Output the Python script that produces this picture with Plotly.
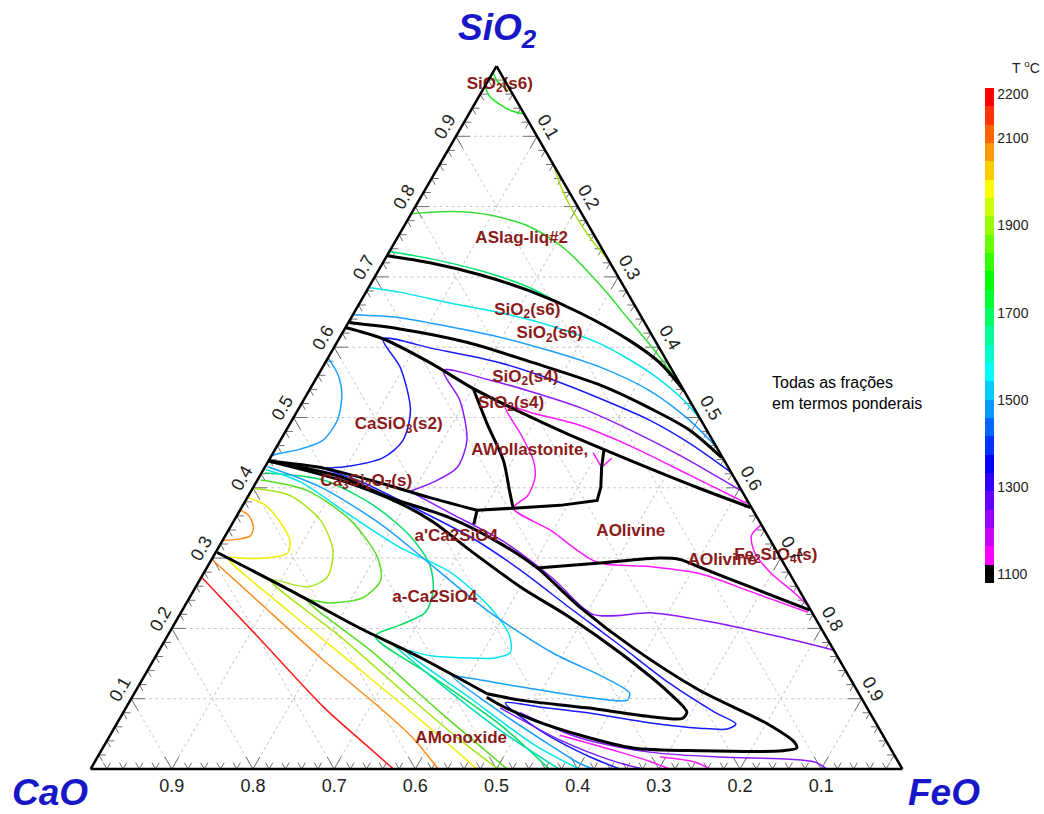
import plotly.graph_objects as go

# ---------------- data: compositions (mass fractions) ----------------
# Phase boundaries (black)  -- SiO2 and FeO fractions, CaO = 1 - SiO2 - FeO
K1_SIO2 = [0.730, 0.720, 0.703, 0.680, 0.649, 0.609, 0.578, 0.538]
K1_FEO = [0.001, 0.058, 0.128, 0.201, 0.278, 0.360, 0.412, 0.462]
K2_SIO2 = [0.635, 0.626, 0.607, 0.578, 0.546, 0.513, 0.482, 0.443]
K2_FEO = [0.000, 0.068, 0.160, 0.256, 0.355, 0.433, 0.497, 0.556]
K3_SIO2 = [0.628, 0.612, 0.578, 0.541, 0.510, 0.477, 0.439, 0.399, 0.372]
K3_FEO = [0.000, 0.054, 0.129, 0.201, 0.270, 0.348, 0.445, 0.551, 0.627]
K4_SIO2 = [0.541, 0.491, 0.439, 0.396, 0.371]
K4_FEO = [0.201, 0.243, 0.289, 0.318, 0.335]
K5_SIO2 = [0.368, 0.371, 0.375, 0.382, 0.401, 0.429, 0.455]
K5_FEO = [0.292, 0.335, 0.391, 0.433, 0.428, 0.415, 0.405]
K6_SIO2 = [0.438, 0.428, 0.403, 0.386, 0.368]
K6_FEO = [0.000, 0.073, 0.167, 0.225, 0.292]
K7_SIO2 = [0.368, 0.348]
K7_FEO = [0.292, 0.298]
K8_SIO2 = [0.438, 0.416, 0.386, 0.357, 0.321, 0.286, 0.230, 0.173, 0.112, 0.065,
           0.038, 0.030, 0.026, 0.026, 0.030, 0.047, 0.070, 0.091, 0.102]
K8_FEO = [0.000, 0.099, 0.176, 0.265, 0.344, 0.407, 0.488, 0.581, 0.694, 0.800,
          0.848, 0.855, 0.840, 0.738, 0.653, 0.583, 0.510, 0.459, 0.437]
K9_SIO2 = [0.438, 0.411, 0.378, 0.351, 0.311, 0.259, 0.216, 0.165, 0.108, 0.081,
           0.072, 0.074, 0.087, 0.098, 0.107]
K9_FEO = [0.000, 0.102, 0.192, 0.247, 0.312, 0.400, 0.482, 0.570, 0.659, 0.694,
          0.693, 0.656, 0.568, 0.480, 0.435]
K10_SIO2 = [0.308, 0.254, 0.202, 0.159, 0.107]
K10_FEO = [0.002, 0.119, 0.228, 0.326, 0.435]
K11_SIO2 = [0.286, 0.293, 0.300, 0.298, 0.287, 0.259, 0.226]
K11_FEO = [0.407, 0.481, 0.551, 0.577, 0.607, 0.683, 0.773]

# Isotherms (coloured)
T1_SIO2 = [0.990, 0.979, 0.965]
T1_FEO = [0.001, 0.011, 0.032]
T2_SIO2 = [0.969, 0.957, 0.945, 0.936, 0.932]
T2_FEO = [0.002, 0.013, 0.032, 0.051, 0.067]
T3_SIO2 = [0.855, 0.825, 0.791, 0.756, 0.723]
T3_FEO = [0.144, 0.168, 0.200, 0.237, 0.277]
T4_SIO2 = [0.790, 0.793, 0.788, 0.771, 0.740, 0.688, 0.638, 0.592, 0.545]
T4_FEO = [0.001, 0.047, 0.098, 0.156, 0.214, 0.284, 0.345, 0.401, 0.454]
T5_SIO2 = [0.736, 0.726, 0.709, 0.685, 0.662]
T5_FEO = [0.000, 0.055, 0.125, 0.198, 0.247]
T6_SIO2 = [0.685, 0.678, 0.663, 0.649, 0.631, 0.605, 0.564, 0.527, 0.496]
T6_FEO = [0.000, 0.043, 0.111, 0.180, 0.250, 0.325, 0.407, 0.465, 0.504]
T7_SIO2 = [0.646, 0.642, 0.629, 0.614, 0.595, 0.572, 0.538, 0.496, 0.457]
T7_FEO = [0.000, 0.060, 0.128, 0.198, 0.268, 0.341, 0.420, 0.490, 0.543]
T8_SIO2 = [0.428, 0.430, 0.443, 0.467, 0.510, 0.571, 0.612, 0.598, 0.578, 0.555,
           0.527, 0.496, 0.463, 0.422]
T8_FEO = [0.070, 0.098, 0.139, 0.151, 0.139, 0.096, 0.054, 0.123, 0.215, 0.288,
          0.364, 0.441, 0.507, 0.578]
T9A_SIO2 = [0.395, 0.408, 0.429, 0.467, 0.524, 0.567, 0.553, 0.536, 0.514, 0.482, 0.446, 0.396]
T9A_FEO = [0.196, 0.218, 0.237, 0.230, 0.193, 0.151, 0.216, 0.277, 0.346, 0.424, 0.503, 0.603]
T9B_SIO2 = [0.395, 0.364, 0.324, 0.271, 0.220, 0.222, 0.207, 0.188, 0.169]
T9B_FEO = [0.196, 0.261, 0.346, 0.434, 0.509, 0.582, 0.671, 0.755, 0.831]
T10_SIO2 = [0.378, 0.418, 0.460, 0.489, 0.506, 0.517, 0.474, 0.439, 0.415, 0.389,
            0.371, 0.340, 0.294, 0.288, 0.278, 0.253, 0.223]
T10_FEO = [0.619, 0.529, 0.434, 0.358, 0.292, 0.252, 0.294, 0.326, 0.340, 0.344,
           0.335, 0.396, 0.477, 0.545, 0.611, 0.685, 0.772]
T11_SIO2 = [0.347, 0.332, 0.308, 0.280, 0.251, 0.234]
T11_FEO = [0.652, 0.648, 0.664, 0.697, 0.741, 0.765]
T12_SIO2 = [0.450, 0.429, 0.442]
T12_FEO = [0.394, 0.415, 0.421]
T13_SIO2 = [0.584, 0.560, 0.531, 0.496, 0.467, 0.455, 0.449, 0.446]
T13_FEO = [0.001, 0.025, 0.044, 0.056, 0.052, 0.031, 0.009, 0.001]
T14_SIO2 = [0.368, 0.361, 0.345, 0.332, 0.327, 0.325]
T14_FEO = [0.001, 0.014, 0.028, 0.031, 0.019, 0.001]
T15_SIO2 = [0.297, 0.240, 0.155, 0.081, 0.041, 0.0]
T15_FEO = [0.002, 0.085, 0.209, 0.322, 0.379, 0.428]
T16_SIO2 = [0.273, 0.188, 0.088, 0.041, 0.0]
T16_FEO = [0.0, 0.112, 0.243, 0.312, 0.373]
T17_SIO2 = [0.386, 0.375, 0.351, 0.325, 0.307, 0.300, 0.300, 0.301, 0.223, 0.144, 0.070, 0.0]
T17_FEO = [0.001, 0.028, 0.058, 0.083, 0.089, 0.065, 0.035, 0.018, 0.134, 0.257, 0.371, 0.476]
T18_SIO2 = [0.399, 0.389, 0.354, 0.311, 0.273, 0.259, 0.269, 0.188, 0.102, 0.041, 0.0]
T18_FEO = [0.001, 0.051, 0.106, 0.143, 0.155, 0.138, 0.087, 0.214, 0.342, 0.435, 0.502]
T19_SIO2 = [0.411, 0.396, 0.354, 0.301, 0.269, 0.244, 0.236, 0.240, 0.169, 0.081, 0.027, 0.0]
T19_FEO = [0.004, 0.069, 0.143, 0.203, 0.223, 0.214, 0.177, 0.147, 0.260, 0.390, 0.472, 0.513]
T20_SIO2 = [0.421, 0.411, 0.375, 0.332, 0.290, 0.254, 0.223, 0.205, 0.189, 0.134, 0.063, 0.0]
T20_FEO = [0.004, 0.081, 0.161, 0.227, 0.273, 0.295, 0.301, 0.279, 0.256, 0.351, 0.473, 0.565]
T21_SIO2 = [0.426, 0.408, 0.361, 0.315, 0.280, 0.230, 0.190, 0.166, 0.158, 0.158, 0.161,
            0.169, 0.101, 0.034, 0.0]
T21_FEO = [0.003, 0.055, 0.139, 0.224, 0.303, 0.377, 0.421, 0.434, 0.419, 0.385, 0.338,
           0.303, 0.417, 0.530, 0.602]
T22_SIO2 = [0.430, 0.401, 0.349, 0.303, 0.226, 0.165, 0.131, 0.108, 0.098, 0.102, 0.117,
            0.129, 0.132, 0.081, 0.034, 0.010, 0.0]
T22_FEO = [0.003, 0.083, 0.182, 0.255, 0.375, 0.487, 0.566, 0.610, 0.612, 0.560, 0.471,
           0.403, 0.380, 0.464, 0.549, 0.594, 0.619]
T23_SIO2 = [0.428, 0.409, 0.367, 0.330, 0.283, 0.229, 0.176, 0.122, 0.081, 0.064, 0.057,
            0.058, 0.065, 0.080, 0.088, 0.094, 0.055, 0.017, 0.0]
T23_FEO = [0.070, 0.128, 0.223, 0.303, 0.388, 0.476, 0.564, 0.652, 0.728, 0.763, 0.756,
           0.721, 0.660, 0.572, 0.510, 0.464, 0.526, 0.607, 0.652]
T24_SIO2 = [0.182, 0.121, 0.055, 0.0]
T24_FEO = [0.276, 0.370, 0.477, 0.577]
T25_SIO2 = [0.087, 0.041, 0.013, 0.0]
T25_FEO = [0.461, 0.558, 0.633, 0.680]
T26_SIO2 = [0.080, 0.044, 0.024, 0.017, 0.014, 0.010, 0.0]
T26_FEO = [0.489, 0.581, 0.677, 0.766, 0.854, 0.887, 0.907]
T27_SIO2 = [0.048, 0.024, 0.011, 0.0]
T27_FEO = [0.554, 0.640, 0.683, 0.713]
T28_SIO2 = [0.017, 0.010, 0.0]
T28_FEO = [0.693, 0.739, 0.763]

# Phase labels: text, SiO2, FeO
LABEL_TEXT = ["SiO<sub>2</sub>(s6)", "ASlag-liq#2", "SiO<sub>2</sub>(s6)", "SiO<sub>2</sub>(s6)",
              "SiO<sub>2</sub>(s4)", "SiO<sub>2</sub>(s4)", "CaSiO<sub>3</sub>(s2)",
              "AWollastonite,", "Ca<sub>3</sub>Si<sub>2</sub>O<sub>7</sub>(s)", "a'Ca2SiO4",
              "AOlivine", "AOlivine", "Fe<sub>2</sub>SiO<sub>4</sub>(s)", "a-Ca2SiO4", "AMonoxide"]
LABEL_SIO2 = [0.974, 0.754, 0.652, 0.619, 0.557, 0.520, 0.489, 0.452, 0.409, 0.331,
              0.337, 0.296, 0.304, 0.244, 0.043]
LABEL_FEO = [0.017, 0.154, 0.212, 0.256, 0.257, 0.258, 0.135, 0.315, 0.135, 0.285,
             0.497, 0.630, 0.692, 0.302, 0.435]

# Axis ticks
MAJOR_TICKS = [0.1, 0.2, 0.3, 0.4, 0.5, 0.6, 0.7, 0.8, 0.9]
MINOR_STEP = 0.02

# Colour bar (temperature, °C)
T_TICKS = [1100, 1300, 1500, 1700, 1900, 2100, 2200]
T_MIN, T_MAX = 1080, 2215
BAND_COLORS = ['#000000', '#ff00ff', '#cc00ff', '#9900ff', '#6600ff', '#3300ff', '#0000ff',
               '#0033ff', '#0066ff', '#0099ff', '#00ccff', '#00ffff', '#00ffcc', '#00ff99',
               '#00ff66', '#00ff33', '#00ff00', '#33ff00', '#66ff00', '#99ff00', '#ccff00',
               '#ffff00', '#ffcc00', '#ff9900', '#ff6600', '#ff3300', '#ff0000']

W, H = 1044, 814
TRI_X0, TRI_X1, TRI_Y0, TRI_Y1 = 90, 903, 66, 769   # triangle box in pixels
FONT = 'Liberation Sans, Arial, sans-serif'

# ---------------- figure ----------------
fig = go.Figure()


def add_line(sio2, feo, color, width=1.5, shape='spline'):
    cao = [max(0.0, 1.0 - s - f) for s, f in zip(sio2, feo)]
    fig.add_trace(go.Scatterternary(
        a=sio2, b=cao, c=feo, mode='lines',
        line=dict(color=color, width=width, shape=shape, smoothing=0.8),
        hoverinfo='skip', showlegend=False))


# V-shaped edge ticks (drawn along the two other grid directions)
ta, tb, tc = [], [], []
nsteps = int(round(1 / MINOR_STEP))
for k in range(1, nsteps):
    v = k * MINOR_STEP
    L = 0.017 if any(abs(v - m) < 1e-9 for m in MAJOR_TICKS) else 0.009
    # bottom edge (a = 0)
    ta += [L, 0, L, None]; tb += [1 - v - L, 1 - v, 1 - v, None]; tc += [v, v, v - L, None]
    # left edge (c = 0)
    ta += [v, v, v - L, None]; tb += [1 - v - L, 1 - v, 1 - v, None]; tc += [L, 0, L, None]
    # right edge (b = 0)
    ta += [v, v, v - L, None]; tb += [L, 0, L, None]; tc += [1 - v - L, 1 - v, 1 - v, None]
fig.add_trace(go.Scatterternary(a=ta, b=tb, c=tc, mode='lines',
                                line=dict(color='#707070', width=1), connectgaps=False,
                                hoverinfo='skip', showlegend=False))

GREEN_TOP = '#1ee61e'
isotherms = [
    (T1_SIO2, T1_FEO, GREEN_TOP), (T2_SIO2, T2_FEO, GREEN_TOP),
    (T3_SIO2, T3_FEO, '#a6e619'), (T4_SIO2, T4_FEO, '#33dd33'),
    (T5_SIO2, T5_FEO, '#00e673'), (T6_SIO2, T6_FEO, '#00e5ee'),
    (T7_SIO2, T7_FEO, '#1a9fff'), (T8_SIO2, T8_FEO, '#1a1aff'),
    (T9A_SIO2, T9A_FEO, '#8c1aff'), (T9B_SIO2, T9B_FEO, '#8c1aff'),
    (T10_SIO2, T10_FEO, '#ff1aff'), (T11_SIO2, T11_FEO, '#ff1aff'),
    (T13_SIO2, T13_FEO, '#1a9fff'), (T14_SIO2, T14_FEO, '#ff8c1a'),
    (T15_SIO2, T15_FEO, '#ff8c1a'), (T16_SIO2, T16_FEO, '#ff1a1a'),
    (T17_SIO2, T17_FEO, '#f0f000'), (T18_SIO2, T18_FEO, '#a6e619'),
    (T19_SIO2, T19_FEO, '#55dd22'), (T20_SIO2, T20_FEO, '#00dd66'),
    (T21_SIO2, T21_FEO, '#00e5ee'), (T22_SIO2, T22_FEO, '#1a9fff'),
    (T23_SIO2, T23_FEO, '#1a1aff'), (T24_SIO2, T24_FEO, '#00e0b0'),
    (T25_SIO2, T25_FEO, '#7a1aff'),
    (T26_SIO2, T26_FEO, '#8c1aff'), (T27_SIO2, T27_FEO, '#ff1aff'),
    (T28_SIO2, T28_FEO, '#ff1aff'),
]
for s, f, col in isotherms:
    add_line(s, f, col)
add_line(T12_SIO2, T12_FEO, '#ff1aff', shape='linear')

boundaries = [(K1_SIO2, K1_FEO, 'spline'), (K2_SIO2, K2_FEO, 'spline'), (K3_SIO2, K3_FEO, 'spline'),
              (K4_SIO2, K4_FEO, 'spline'), (K5_SIO2, K5_FEO, 'linear'), (K6_SIO2, K6_FEO, 'spline'),
              (K7_SIO2, K7_FEO, 'linear'), (K8_SIO2, K8_FEO, 'spline'), (K9_SIO2, K9_FEO, 'spline'),
              (K10_SIO2, K10_FEO, 'spline'), (K11_SIO2, K11_FEO, 'spline')]
for s, f, shp in boundaries:
    add_line(s, f, 'black', width=3, shape=shp)

# phase labels
lab_font = dict(family=FONT, size=17, color='#8b1a1a', weight='bold')
lab_cao = [max(0.0, 1 - s - f) for s, f in zip(LABEL_SIO2, LABEL_FEO)]
fig.add_trace(go.Scatterternary(
    a=LABEL_SIO2, b=lab_cao, c=LABEL_FEO, mode='text', text=LABEL_TEXT, cliponaxis=False,
    textfont=lab_font, hoverinfo='skip', showlegend=False))

# colour bar carrier
n = len(BAND_COLORS)
cscale = []
for i, col in enumerate(BAND_COLORS):
    cscale.append([i / n, col])
    cscale.append([(i + 1) / n, col])
fig.add_trace(go.Scatterternary(
    a=[LABEL_SIO2[1]], b=[lab_cao[1]], c=[LABEL_FEO[1]], mode='markers',
    marker=dict(size=0.1, opacity=0, color=[T_MIN], colorscale=cscale, cmin=T_MIN, cmax=T_MAX,
                showscale=True,
                colorbar=dict(x=985 / W, xanchor='left', xpad=0, ypad=0,
                              y=1 - 335.5 / H, yanchor='middle', len=495, lenmode='pixels',
                              thickness=9, outlinewidth=0, tickvals=T_TICKS,
                              ticks='', ticklabelposition='outside',
                              tickfont=dict(family=FONT, size=14, color='#222'))),
    hoverinfo='skip', showlegend=False))

axis_common = dict(
    tickvals=MAJOR_TICKS, ticktext=['%.1f' % t for t in MAJOR_TICKS],
    ticks='', linecolor='black', linewidth=2.5, showgrid=True, gridcolor='#c8c8c8',
    griddash='dot', gridwidth=1, tickfont=dict(family=FONT, size=18, color='#222'),
    title=dict(text=''), min=0)

fig.update_layout(
    width=W, height=H, margin=dict(l=0, r=0, t=0, b=0),
    paper_bgcolor='white', plot_bgcolor='white', showlegend=False,
    ternary=dict(
        sum=1, bgcolor='white',
        domain=dict(x=[TRI_X0 / W, TRI_X1 / W], y=[1 - TRI_Y1 / H, 1 - TRI_Y0 / H]),
        aaxis=dict(axis_common, tickangle=-60),
        baxis=dict(axis_common),
        caxis=dict(axis_common, tickangle=60),
    ),
)

title_font = dict(family=FONT, size=37, color='#1717c8')
for txt, px, py in [('<b><i>SiO<sub>2</sub></i></b>', 497, 30), ('<b><i>CaO</i></b>', 50, 792),
                    ('<b><i>FeO</i></b>', 944, 792)]:
    fig.add_annotation(x=px / W, y=1 - py / H, xref='paper', yref='paper', text=txt,
                       showarrow=False, font=title_font, xanchor='center', yanchor='middle')

fig.add_annotation(x=770 / W, y=1 - 372 / H, xref='paper', yref='paper',
                   text='Todas as frações<br>em termos ponderais', showarrow=False,
                   align='left', xanchor='left', yanchor='top',
                   font=dict(family=FONT, size=16, color='black'))
fig.add_annotation(x=1042 / W, y=1 - 67 / H, xref='paper', yref='paper',
                   text='T <sup>o</sup>C', showarrow=False, xanchor='right', yanchor='middle',
                   font=dict(family=FONT, size=14, color='#222'))

fig.write_html('out.html', config={'displayModeBar': False},
               post_script="document.body.style.margin='0';document.body.style.overflow='hidden';")
